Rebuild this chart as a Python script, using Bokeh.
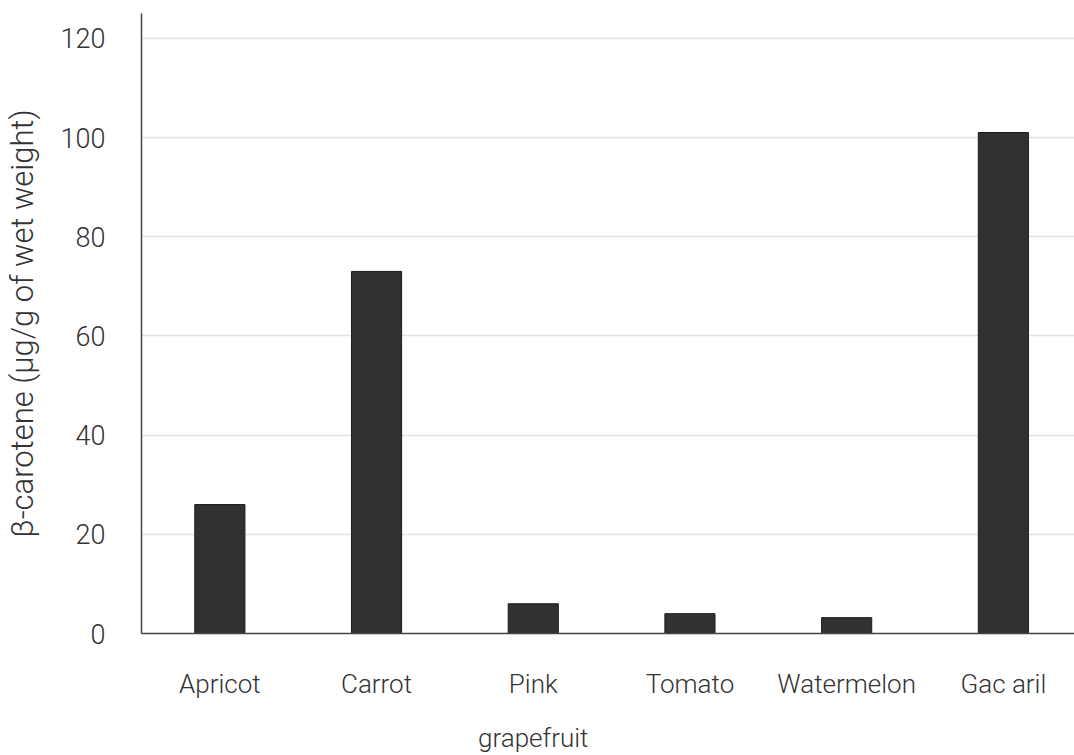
from bokeh.plotting import figure
from bokeh.models import Range1d, FixedTicker, ColumnDataSource, LinearAxis
from bokeh.embed import file_html
from bokeh.resources import INLINE

categories = ["Apricot", "Carrot", "Pink", "Tomato", "Watermelon", "Gac aril"]
category_second_lines = {2: "grapefruit"}
values = [26, 73, 6, 4, 3.2, 101]
y_ticks = [0, 20, 40, 60, 80, 100, 120]

positions = list(range(len(categories)))
src = ColumnDataSource(dict(x=positions, top=values))

FONT = "'Roboto Light', Roboto"
TXT = "#333333"
FS = "26px"

p = figure(width=1074, height=755, output_backend="svg", toolbar_location=None,
           x_range=Range1d(-0.5, 5.454), y_range=Range1d(0, 125),
           min_border_left=141, min_border_right=0, min_border_top=13, min_border_bottom=122)
p.outline_line_color = None
p.background_fill_color = "white"

p.vbar(x="x", top="top", width=0.32, source=src, fill_color="#313131",
       line_color="#1c1c1c", line_width=1)

p.xaxis.ticker = FixedTicker(ticks=positions)
p.xaxis.major_label_overrides = {i: c for i, c in zip(positions, categories)}
p.yaxis.ticker = FixedTicker(ticks=y_ticks)

for ax in (p.xaxis[0], p.yaxis[0]):
    ax.axis_line_color = "#444444"
    ax.axis_line_width = 1.5
    ax.major_tick_line_color = None
    ax.minor_tick_line_color = None
    ax.major_label_text_font = FONT
    ax.major_label_text_font_size = FS
    ax.major_label_text_color = TXT

p.yaxis.major_label_text_font_size = "27px"
p.xaxis.major_label_standoff = 29
p.yaxis.major_label_standoff = 30

# second line of the multi-line category label
ax2 = LinearAxis(ticker=FixedTicker(ticks=list(category_second_lines.keys())),
                 major_label_overrides=category_second_lines)
ax2.axis_line_color = None
ax2.major_tick_line_color = None
ax2.minor_tick_line_color = None
ax2.major_label_text_font = FONT
ax2.major_label_text_font_size = FS
ax2.major_label_text_color = TXT
ax2.major_label_standoff = 15
p.add_layout(ax2, "below")

p.yaxis.axis_label = "β-carotene (μg/g of wet weight)"
p.yaxis.axis_label_text_font = FONT
p.yaxis.axis_label_text_font_size = "31px"
p.yaxis.axis_label_text_font_style = "normal"
p.yaxis.axis_label_text_color = TXT
p.yaxis.axis_label_standoff = 17

p.xgrid.grid_line_color = None
p.ygrid.grid_line_color = "#e2e2e2"
p.ygrid.grid_line_width = 1.5
p.ygrid.ticker = FixedTicker(ticks=y_ticks[1:])

open("out.html", "w").write(file_html(p, INLINE))
